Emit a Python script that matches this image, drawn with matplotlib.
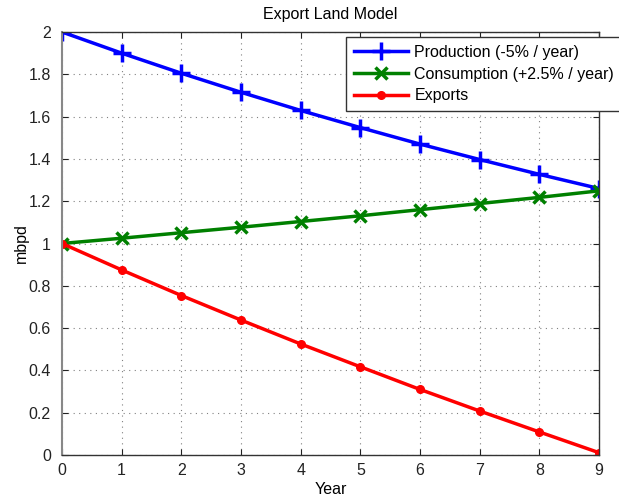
import matplotlib
matplotlib.use("Agg")
import matplotlib.pyplot as plt

plt.rcParams['font.family'] = ['Liberation Sans', 'DejaVu Sans']

years = [0, 1, 2, 3, 4, 5, 6, 7, 8, 9]
production = [2.0, 1.9, 1.805, 1.715, 1.629, 1.548, 1.470, 1.397, 1.327, 1.260]
consumption = [1.0, 1.025, 1.051, 1.077, 1.104, 1.131, 1.160, 1.189, 1.218, 1.249]
exports = [1.0, 0.875, 0.754, 0.638, 0.525, 0.417, 0.310, 0.208, 0.109, 0.011]

xticks = [0, 1, 2, 3, 4, 5, 6, 7, 8, 9]
yticks = [0, 0.2, 0.4, 0.6, 0.8, 1, 1.2, 1.4, 1.6, 1.8, 2]
yticklabels = ['0', '0.2', '0.4', '0.6', '0.8', '1', '1.2', '1.4', '1.6', '1.8', '2']

FS = 11.5

fig = plt.figure(figsize=(6.19, 5.01), dpi=100)
ax = fig.add_axes([62/619, 46/501, 537/619, 423/501])

ax.plot(years, production, color='#0000ff', lw=2.5, marker='+', ms=13, mew=2.5,
        label='Production (-5% / year)')
ax.plot(years, consumption, color='#008000', lw=2.5, marker='x', ms=9, mew=2.5,
        label='Consumption (+2.5% / year)')
ax.plot(years, exports, color='#ff0000', lw=2.5, marker='.', ms=11,
        label='Exports')

ax.set_xlim(0, 9)
ax.set_ylim(0, 2)
ax.set_xticks(xticks)
ax.set_yticks(yticks)
ax.set_yticklabels(yticklabels)
ax.grid(True, linestyle=(0, (1, 4)), color='#808080', lw=0.8)
ax.tick_params(direction='in', length=4, labelsize=FS, colors='#222222')
ax.tick_params(axis='y', pad=8)
ax.tick_params(axis='x', pad=6)
ax.tick_params(top=True, right=True)
for s in ax.spines.values():
    s.set_color('#333333')
    s.set_linewidth(1.0)
ax.spines['left'].set_color('#888888')
ax.spines['left'].set_linewidth(1.5)

ax.set_title('Export Land Model', fontsize=FS, pad=9)
ax.set_xlabel('Year', fontsize=FS, labelpad=3)
ax.set_ylabel('mbpd', fontsize=FS, labelpad=0)

leg = ax.legend(loc='upper right', bbox_to_anchor=(622/619, 464/501),
                bbox_transform=fig.transFigure, fontsize=FS, frameon=True,
                fancybox=False, edgecolor='#333333', framealpha=1,
                handlelength=3.4, borderpad=0.5, labelspacing=0.42,
                handletextpad=0.4, borderaxespad=0)
leg.get_frame().set_linewidth(1.0)

fig.savefig('out.png', dpi=100)
